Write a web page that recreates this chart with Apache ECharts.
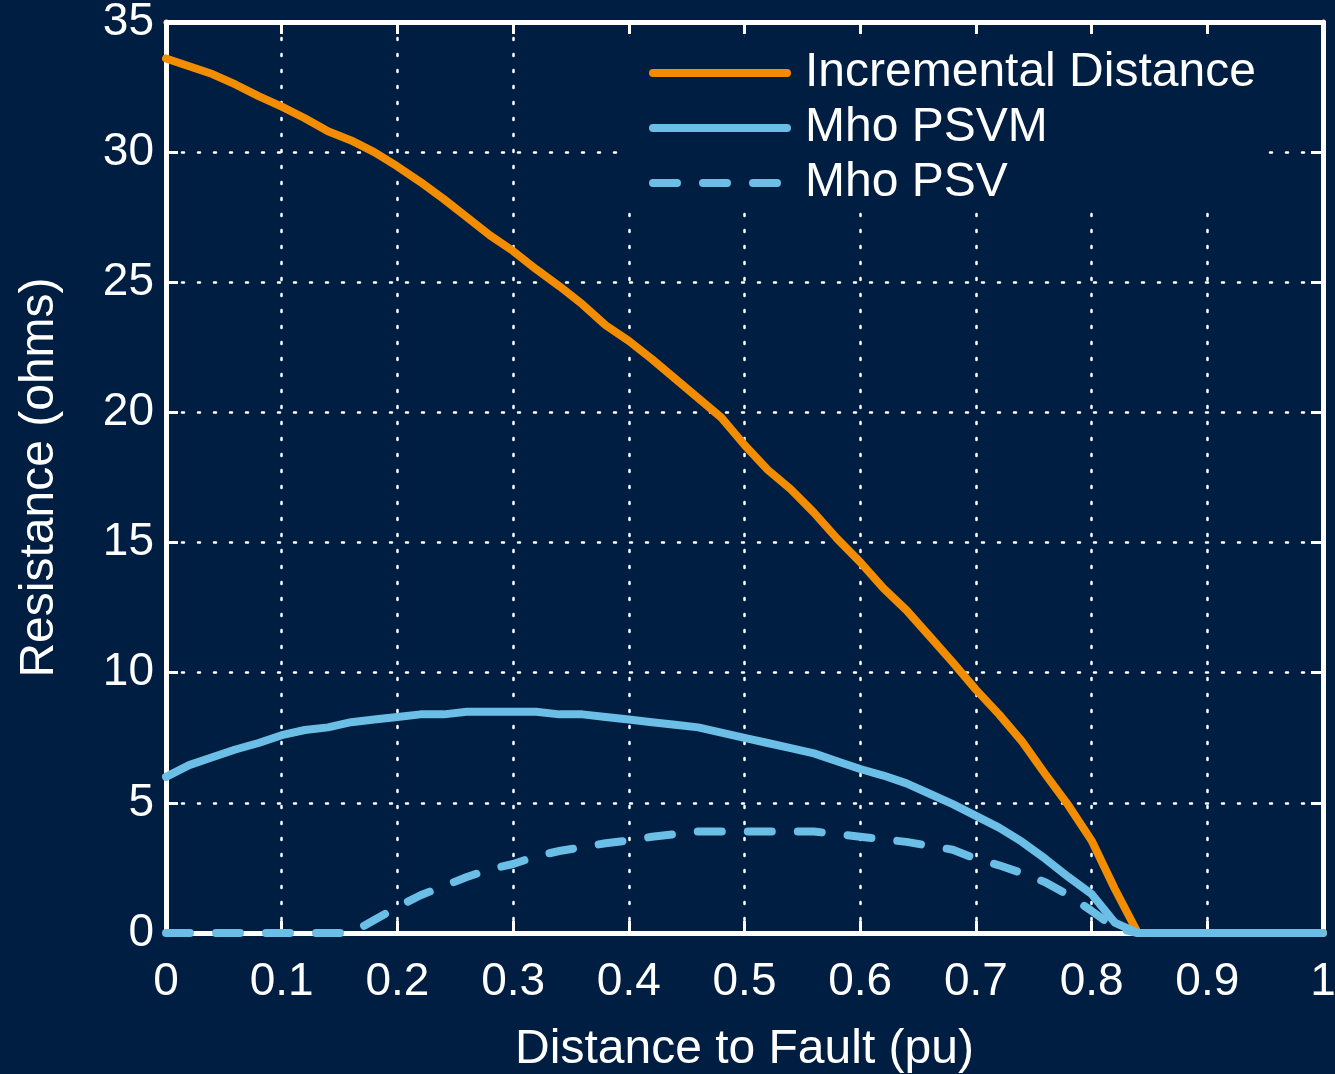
<!DOCTYPE html>
<html>
<head>
<meta charset="utf-8">
<script src="https://cdn.jsdelivr.net/npm/echarts@6/dist/echarts.min.js"></script>
<style>
html,body{margin:0;padding:0;background:#001e42;}
#chart{width:1335px;height:1074px;}
</style>
</head>
<body>
<div id="chart"></div>
<script>
const distance = [0,0.02,0.04,0.06,0.08,0.10,0.12,0.14,0.16,0.18,0.20,0.22,0.24,0.26,0.28,0.30,0.32,0.34,0.36,0.38,0.40,0.42,0.44,0.46,0.48,0.50,0.52,0.54,0.56,0.58,0.60,0.62,0.64,0.66,0.68,0.70,0.72,0.74,0.76,0.78,0.80,0.82,0.84,0.86,0.88,0.90,0.92,0.94,0.96,0.98,1.00];
const incremental = [33.6,33.3,33.0,32.6,32.15,31.75,31.3,30.8,30.45,30.0,29.45,28.85,28.2,27.5,26.8,26.2,25.5,24.85,24.15,23.35,22.75,22.05,21.3,20.55,19.8,18.75,17.8,17.05,16.15,15.15,14.25,13.25,12.4,11.4,10.4,9.35,8.4,7.35,6.1,4.9,3.55,1.7,0,0,0,0,0,0,0,0,0];
const mhoPSVM = [6.0,6.45,6.75,7.05,7.3,7.6,7.8,7.9,8.1,8.2,8.3,8.4,8.4,8.5,8.5,8.5,8.5,8.4,8.4,8.3,8.2,8.1,8.0,7.9,7.7,7.5,7.3,7.1,6.9,6.6,6.3,6.05,5.75,5.35,4.95,4.5,4.05,3.5,2.85,2.15,1.5,0.4,0,0,0,0,0,0,0,0,0];
const mhoPSV = [0,0,0,0,0,0,0,0,0,0.5,1.0,1.45,1.8,2.15,2.45,2.65,2.95,3.15,3.3,3.45,3.55,3.7,3.8,3.9,3.9,3.9,3.9,3.9,3.9,3.8,3.7,3.6,3.5,3.35,3.2,2.85,2.6,2.3,1.95,1.45,0.85,0.2,0,0,0,0,0,0,0,0,0];
const seriesNames = ['Incremental Distance','Mho PSVM','Mho PSV'];

const BG = '#001e42';
const ORANGE = '#f28c00';
const BLUE = '#6bbfe6';
const FONT = 'Liberation Sans, Arial, Helvetica, sans-serif';

function pairs(ys){ return distance.map((x,i)=>[x, ys[i]]); }

const chart = echarts.init(document.getElementById('chart'), null, {renderer:'canvas'});
const gridLine = {show:true, lineStyle:{color:'#ffffff', width:2.5, type:[2,14], cap:'round'}};
const spine = {show:true, onZero:false, lineStyle:{color:'#ffffff', width:5}};
const tick = {show:true, inside:true, length:12, lineStyle:{color:'#ffffff', width:3}};

chart.setOption({
  backgroundColor: BG,
  animation: false,
  textStyle: {fontFamily: FONT},
  grid: {left:166, right:12, top:22, bottom:141, containLabel:false, outerBoundsMode:'none'},
  legend: {
    orient:'vertical', left:622, top:37,
    padding:[12,10,2,27],
    backgroundColor: BG,
    itemWidth:134, itemHeight:8, itemGap:7,
    textStyle:{color:'#ffffff', fontSize:48, fontFamily:FONT, lineHeight:48, padding:[0,0,0,13]},
    itemStyle:{color:'transparent', borderWidth:0, opacity:0},
    lineStyle:{width:8, cap:'round'},
    data: seriesNames
  },
  xAxis: [{
    type:'value', min:0, max:1, interval:0.1,
    name:'Distance to Fault (pu)', nameLocation:'middle', nameGap:93,
    nameTextStyle:{color:'#ffffff', fontSize:48, fontFamily:FONT},
    axisLine: spine, axisTick: tick,
    axisLabel:{color:'#ffffff', fontSize:46, fontFamily:FONT, margin:26},
    splitLine: gridLine
  },{
    type:'value', min:0, max:1, interval:0.1, position:'top',
    axisLine: spine, axisTick: tick, axisLabel:{show:false}, splitLine:{show:false}
  }],
  yAxis: [{
    type:'value', min:0, max:35, interval:5,
    name:'Resistance (ohms)', nameLocation:'middle', nameGap:102,
    nameTextStyle:{color:'#ffffff', fontSize:48, fontFamily:FONT},
    axisLine: spine, axisTick: tick,
    axisLabel:{color:'#ffffff', fontSize:46, fontFamily:FONT, margin:12},
    splitLine: gridLine
  },{
    type:'value', min:0, max:35, interval:5, position:'right',
    axisLine: spine, axisTick: tick, axisLabel:{show:false}, splitLine:{show:false}
  }],
  series: [{
    name: seriesNames[0], type:'line', data: pairs(incremental), symbol:'none', clip:false,
    lineStyle:{color:ORANGE, width:8, cap:'round', join:'round'}, itemStyle:{color:ORANGE}
  },{
    name: seriesNames[1], type:'line', data: pairs(mhoPSVM), symbol:'none', clip:false,
    lineStyle:{color:BLUE, width:8, cap:'round', join:'round'}, itemStyle:{color:BLUE}
  },{
    name: seriesNames[2], type:'line', data: pairs(mhoPSV), symbol:'none', clip:false,
    lineStyle:{color:BLUE, width:8, type:[24,26], cap:'round', join:'round'}, itemStyle:{color:BLUE}
  }]
});
</script>
</body>
</html>
